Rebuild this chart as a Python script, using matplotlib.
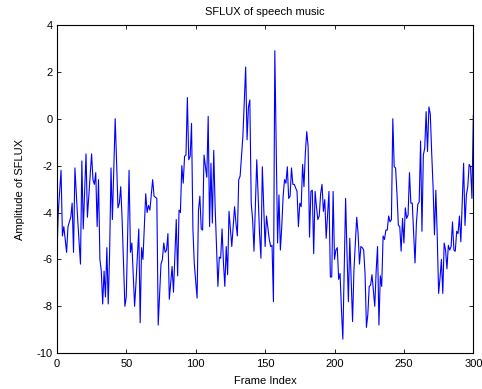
import matplotlib
matplotlib.use("Agg")
import matplotlib.pyplot as plt

plt.rcParams['font.family'] = ['Liberation Sans', 'DejaVu Sans']
plt.rcParams['axes.unicode_minus'] = False

# frame index and SFLUX amplitude
frames = [0, 1, 3, 4, 5, 7, 8, 10, 11, 12, 13, 15, 17, 18, 19, 21, 22, 23, 25, 26,
          27, 28, 29, 30, 31, 32, 33, 34, 35, 36, 37, 38, 39, 40, 42, 43, 44, 45, 46, 47,
          49, 50, 52, 53, 54, 55, 56, 57, 59, 60, 61, 62, 64, 65, 66, 67, 69, 70, 72, 73,
          75, 76, 77, 78, 79, 80, 81, 83, 84, 86, 87, 88, 89, 90, 91, 92, 93, 94, 95, 96,
          97, 98, 99, 101, 102, 103, 104, 105, 106, 108, 109, 110, 111, 112, 113, 114, 116, 117, 118, 119,
          120, 121, 122, 123, 124, 126, 128, 129, 130, 131, 132, 134, 136, 137, 138, 139, 140, 141, 142, 144,
          146, 147, 148, 150, 151, 153, 154, 155, 156, 157, 159, 160, 161, 162, 163, 164, 165, 166, 167, 168,
          169, 170, 171, 172, 173, 174, 175, 176, 177, 178, 179, 180, 181, 182, 183, 184, 185, 186, 187, 188,
          189, 190, 191, 192, 193, 194, 196, 197, 198, 199, 200, 201, 202, 203, 204, 205, 206, 208, 209, 210,
          211, 212, 213, 214, 216, 217, 218, 219, 220, 221, 222, 223, 224, 225, 226, 227, 228, 229, 230, 231,
          232, 233, 234, 235, 236, 237, 238, 239, 240, 241, 242, 243, 244, 245, 246, 247, 248, 249, 250, 251,
          252, 253, 254, 255, 256, 258, 259, 260, 261, 262, 263, 264, 265, 266, 267, 268, 269, 270, 271, 272,
          273, 274, 275, 276, 277, 278, 279, 280, 281, 282, 283, 284, 285, 286, 287, 288, 289, 290, 291, 293,
          294, 295, 296, 297, 298, 299, 300]
sflux = [-5.9, -4.0, -2.2, -5.0, -4.6, -5.7, -4.6, -4.2, -3.6, -5.7, -2.1, -4.3, -6.2, -1.8, -4.7, -1.5, -4.2, -3.3, -1.5, -2.6,
         -2.8, -2.3, -4.6, -2.6, -6.0, -6.5, -7.9, -6.5, -7.6, -5.5, -7.9, -5.7, -2.1, -4.3, 0.0, -1.8, -3.8, -3.6, -2.9, -4.3,
         -8.0, -7.6, -2.2, -5.7, -5.3, -6.6, -8.0, -7.0, -4.7, -8.7, -5.5, -6.0, -3.2, -4.0, -3.7, -3.9, -2.6, -3.3, -3.4, -8.8,
         -6.2, -6.0, -5.3, -5.7, -5.6, -4.9, -7.7, -6.3, -7.4, -4.3, -6.7, -3.9, -4.0, -2.0, -2.75, -1.6, -1.55, 0.9, -1.75, -1.6,
         -0.2, -4.7, -6.2, -7.65, -3.9, -3.3, -4.7, -4.75, -1.55, -2.5, 0.1, -4.6, -1.9, -4.45, -1.35, -3.75, -7.15, -5.9, -5.95, -4.7,
         -6.15, -7.15, -5.45, -6.65, -3.95, -5.45, -3.75, -4.45, -5.0, -2.6, -2.45, -0.75, 2.2, -0.9, 0.5, 0.8, -3.6, -4.3, -5.65, -1.75,
         -4.9, -5.95, -2.05, -5.45, -4.15, -5.15, -5.45, -5.4, -7.8, 2.9, -5.3, -3.25, -5.6, -4.6, -3.3, -2.6, -2.75, -2.05, -3.4, -3.3,
         -2.1, -2.8, -2.8, -2.95, -3.1, -4.6, -3.6, -3.75, -1.95, -2.9, -1.45, -0.55, -1.2, -5.05, -3.1, -3.05, -5.75, -3.1, -3.75, -4.3,
         -4.15, -3.2, -2.8, -3.95, -3.45, -5.1, -3.1, -6.75, -6.75, -3.1, -6.0, -5.6, -5.5, -6.85, -6.6, -8.15, -9.4, -3.4, -5.75, -7.8,
         -5.1, -6.85, -8.65, -6.45, -4.2, -4.9, -6.2, -5.45, -5.5, -5.6, -6.6, -8.9, -8.35, -7.15, -7.1, -6.65, -7.3, -8.0, -6.5, -5.45,
         -8.8, -6.7, -7.15, -5.0, -5.15, -4.75, -4.75, -4.15, -4.4, -4.3, 0.0, -2.05, -2.1, -3.2, -4.55, -4.6, -5.65, -4.25, -5.3, -3.8,
         -4.25, -4.1, -2.3, -3.6, -3.6, -6.15, -4.45, -3.65, -3.55, -0.95, -4.8, -1.55, -1.25, 0.3, -1.4, 0.5, 0.2, -1.45, -2.9, -4.95,
         -3.05, -5.0, -7.45, -6.8, -6.0, -7.45, -5.3, -5.6, -6.4, -5.4, -5.6, -5.45, -4.4, -5.6, -5.65, -4.8, -4.9, -4.15, -5.25, -1.9,
         -4.55, -3.25, -2.9, -1.95, -2.05, -3.4, 0.15]

fig = plt.figure(figsize=(4.82, 3.89), dpi=100)
ax = fig.add_axes([0.118, 0.092, 0.864, 0.844])

ax.plot(frames, sflux, color='#0000ff', linewidth=0.8)

ax.set_xlim(0, 300)
ax.set_ylim(-10, 4)
ax.set_xticks([0, 50, 100, 150, 200, 250, 300])
ax.set_yticks([-10, -8, -6, -4, -2, 0, 2, 4])
ax.tick_params(direction='in', top=True, right=True, labelsize=8, length=3, width=0.6)
ax.tick_params(axis='x', pad=4)
ax.tick_params(axis='y', pad=3)
for s in ax.spines.values():
    s.set_linewidth(0.8)

ax.set_title("SFLUX of speech music", fontsize=8, pad=7)
ax.set_xlabel("Frame Index", fontsize=8, labelpad=5)
ax.set_ylabel("Amplitude of SFLUX", fontsize=8, labelpad=8)

fig.savefig("out.png", dpi=100)
